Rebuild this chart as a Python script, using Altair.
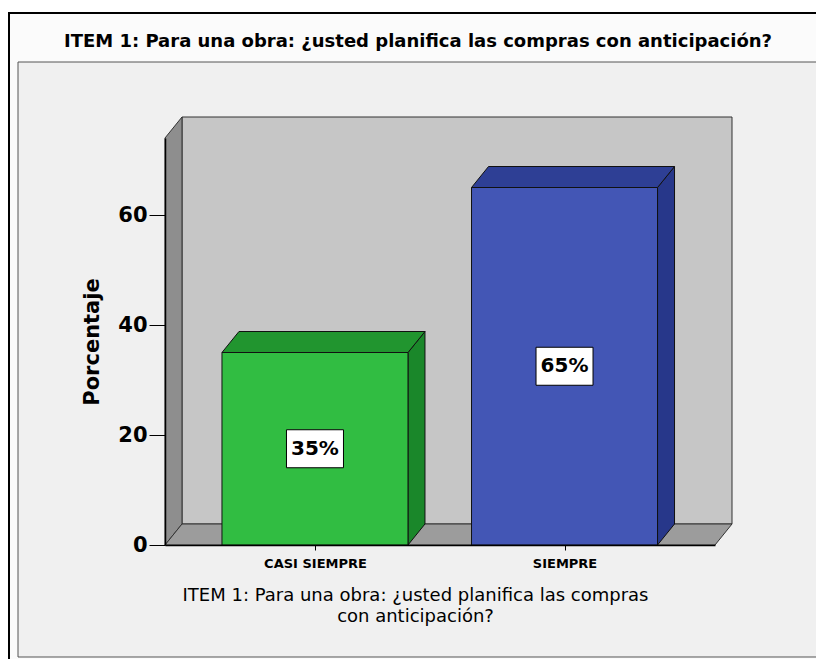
import altair as alt
import pandas as pd

# ---- data ----
categories = ["CASI SIEMPRE", "SIEMPRE"]
percentages = [35, 65]
value_labels = ["35%", "65%"]
chart_title = ["ITEM 1: Para una obra: ¿usted planifica las compras con anticipación?"]
x_title_lines = ["ITEM 1: Para una obra: ¿usted planifica las compras", "con anticipación?"]
y_title = "Porcentaje"
y_tick_values = [0, 20, 40, 60]

# ---- styling ----
FONT = "DejaVu Sans"
W, H = 550, 407
X_MIN, X_MAX = -0.601, 1.603
Y_MAX = 74
HALF = 0.3727                      # half bar width (x units)
DX = 17 / (W / (X_MAX - X_MIN))    # 3-D depth, 17 px to the right
DY = 21 / (H / Y_MAX)              # 3-D depth, 21 px upward

front_colors = ["#31bd42", "#4356b5"]
top_colors = ["#21952f", "#2e3f95"]
side_colors = ["#1a872a", "#27378a"]

positions = list(range(len(categories)))

bars = pd.DataFrame({
    "cat": categories,
    "pos": positions,
    "pct": percentages,
    "label": value_labels,
    "fill": front_colors,
})
bars["xl"] = bars["pos"] - HALF
bars["xr"] = bars["pos"] + HALF
bars["mid"] = bars["pct"] / 2

side_rows, top_rows = [], []
for c, p, v, sc, tc in zip(categories, positions, percentages, side_colors, top_colors):
    side_rows.append({"cat": c, "x": p + HALF, "y0": 0, "y1": v, "fill": sc})
    side_rows.append({"cat": c, "x": p + HALF + DX, "y0": DY, "y1": v + DY, "fill": sc})
    top_rows.append({"cat": c, "y": v, "x0": p - HALF, "x1": p + HALF, "fill": tc})
    top_rows.append({"cat": c, "y": v + DY, "x0": p - HALF + DX, "x1": p + HALF + DX, "fill": tc})
side = pd.DataFrame(side_rows)
top = pd.DataFrame(top_rows)

# walls / floor of the 3-D box
back_wall = pd.DataFrame({"x0": [X_MIN + DX], "x1": [X_MAX + DX], "y0": [DY], "y1": [Y_MAX + DY]})
left_wall = pd.DataFrame({"x": [X_MIN, X_MIN + DX], "y0": [0, DY], "y1": [Y_MAX, Y_MAX + DY]})
floor = pd.DataFrame({"y": [0, DY], "x0": [X_MIN, X_MIN + DX], "x1": [X_MAX, X_MAX + DX]})

xs = alt.Scale(domain=[X_MIN, X_MAX], nice=False, zero=False)
ys = alt.Scale(domain=[0, Y_MAX], nice=False, zero=True)

label_expr = "datum.value == 0 ? '%s' : datum.value == 1 ? '%s' : ''" % tuple(categories)

x_axis = alt.Axis(
    values=positions, labelExpr=label_expr, title=x_title_lines, grid=False,
    domainColor="black", domainWidth=1.5, tickColor="black", tickSize=5,
    labelFont=FONT, labelFontSize=13, labelFontWeight="bold", labelColor="black",
    labelPadding=7, titleFont=FONT, titleFontSize=18, titleFontWeight="normal",
    titleColor="black", titleX=250, titleY=41, titleBaseline="top",
    titleAlign="center", titleLineHeight=21, zindex=1,
)
y_axis = alt.Axis(
    values=y_tick_values, title=y_title, grid=False,
    domainColor="black", domainWidth=1.5, tickColor="black", tickSize=16,
    labelFont=FONT, labelFontSize=21, labelFontWeight="bold", labelColor="black",
    labelPadding=2, titleFont=FONT, titleFontSize=21, titleFontWeight="bold",
    titleColor="black", titleX=-73, titleY=H / 2, titleAngle=-90,
    titleBaseline="middle", titleAlign="center", zindex=1,
)


def X(field):
    return alt.X(field, scale=xs, axis=x_axis)


def Y(field):
    return alt.Y(field, scale=ys, axis=y_axis)


one = alt.Data(values=[{"k": 1}])

outer_frame = alt.Chart(one).mark_rect(fill="#fbfbfb", stroke="black", strokeWidth=2).encode(
    x=alt.value(-156), x2=alt.value(680), y=alt.value(-125), y2=alt.value(540))
inner_panel = alt.Chart(one).mark_rect(fill="#f0f0f0", stroke="#555555", strokeWidth=1).encode(
    x=alt.value(-147), x2=alt.value(680), y=alt.value(-76), y2=alt.value(519))

title_layer = alt.Chart(pd.DataFrame({"t": chart_title})).mark_text(
    font=FONT, fontSize=18, fontWeight="bold", color="black", align="center", baseline="middle"
).encode(text="t:N", x=alt.value(253), y=alt.value(-96))

back = alt.Chart(back_wall).mark_rect(fill="#c6c6c6", stroke="#333333", strokeWidth=1).encode(
    x=X("x0:Q"), x2="x1:Q", y=Y("y0:Q"), y2="y1:Q")

lwall = alt.Chart(left_wall).mark_area(orient="vertical", fill="#8e8e8e", stroke="#333333", strokeWidth=1).encode(
    x=X("x:Q"), y=Y("y0:Q"), y2="y1:Q")

floor_l = alt.Chart(floor).mark_area(orient="horizontal", fill="#9c9c9c", stroke="#333333", strokeWidth=1).encode(
    y=Y("y:Q"), x=X("x0:Q"), x2="x1:Q")

side_l = alt.Chart(side).mark_area(orient="vertical", stroke="#111111", strokeWidth=1).encode(
    x=X("x:Q"), y=Y("y0:Q"), y2="y1:Q",
    fill=alt.Fill("fill:N", scale=None), detail="cat:N")

top_l = alt.Chart(top).mark_area(orient="horizontal", stroke="#111111", strokeWidth=1).encode(
    y=Y("y:Q"), x=X("x0:Q"), x2="x1:Q",
    fill=alt.Fill("fill:N", scale=None), detail="cat:N")

front_l = alt.Chart(bars).mark_rect(stroke="#111111", strokeWidth=1).encode(
    x=X("xl:Q"), x2="xr:Q", y=Y("pct:Q"), y2=alt.datum(0),
    fill=alt.Fill("fill:N", scale=None))

boxes = alt.Chart(bars).mark_point(
    shape="M-1.5,-1H1.5V1H-1.5Z", size=1444, filled=True, fill="white",
    stroke="black", strokeWidth=1, opacity=1
).encode(x=X("pos:Q"), y=Y("mid:Q"))

texts = alt.Chart(bars).mark_text(
    font=FONT, fontSize=20, fontWeight="bold", color="black", align="center", baseline="middle"
).encode(x=X("pos:Q"), y=Y("mid:Q"), text="label:N")

chart = alt.layer(
    outer_frame, inner_panel, title_layer, back, lwall, floor_l, side_l, top_l, front_l, boxes, texts
).properties(
    width=W, height=H,
    autosize=alt.AutoSizeParams(type="none"),
    padding={"left": 165, "top": 138, "right": 101, "bottom": 114},
    background="white",
).configure_view(stroke=None)

chart.save("out.html", embed_options={"renderer": "svg", "actions": False})
